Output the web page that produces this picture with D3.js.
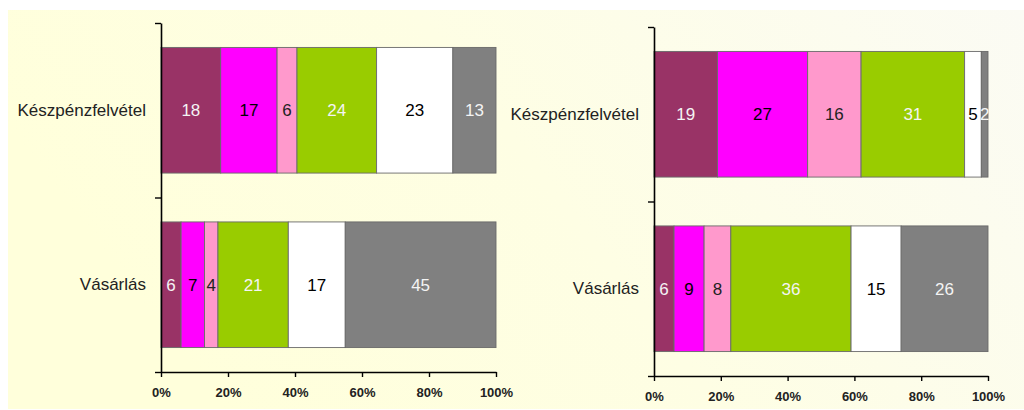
<!DOCTYPE html>
<html>
<head>
<meta charset="utf-8">
<script src="https://cdn.jsdelivr.net/npm/d3@7"></script>
<style>
  html, body { margin: 0; padding: 0; background: #ffffff; }
  svg { display: block; }
</style>
</head>
<body>
<svg id="chart" width="1024" height="410"></svg>
<script>
// ---- data ----
const categories = ["Készpénzfelvétel", "Vásárlás"];
const seriesKeys = ["s1", "s2", "s3", "s4", "s5", "s6"];
const leftCash = [18, 17, 6, 24, 23, 13];
const leftPurchase = [6, 7, 4, 21, 17, 45];
const rightCash = [19, 27, 16, 31, 5, 2];
const rightPurchase = [6, 9, 8, 36, 15, 26];
const tickValues = [0, 0.2, 0.4, 0.6, 0.8, 1];
const tickLabels = ["0%", "20%", "40%", "60%", "80%", "100%"];
const seriesColors = ["#993366", "#FF00FF", "#FF99CC", "#99CC00", "#FFFFFF", "#808080"];
const labelColors = ["#f4f4f4", "#000000", "#222222", "#f4f4f4", "#000000", "#f4f4f4"];

const svg = d3.select("#chart");
const defs = svg.append("defs");
const grad = defs.append("linearGradient")
  .attr("id", "bg").attr("x1", "0").attr("y1", "0.3").attr("x2", "1").attr("y2", "0");
grad.append("stop").attr("offset", "0").attr("stop-color", "#FFFFDB");
grad.append("stop").attr("offset", "0.45").attr("stop-color", "#FEFEE4");
grad.append("stop").attr("offset", "1").attr("stop-color", "#FBFBF4");

svg.append("rect").attr("x", 8).attr("y", 10).attr("width", 1016).attr("height", 399)
  .attr("fill", "url(#bg)");

function toRows(cash, purchase) {
  return [cash, purchase].map((vals, i) => {
    const row = { cat: categories[i] };
    seriesKeys.forEach((k, j) => row[k] = vals[j]);
    return row;
  });
}

function drawPanel(cfg) {
  const rows = toRows(cfg.cash, cfg.purchase);
  const stack = d3.stack().keys(seriesKeys).offset(d3.stackOffsetExpand);
  const layers = stack(rows);

  const x = d3.scaleLinear().domain([0, 1]).range([cfg.x0, cfg.x1]);
  const y = d3.scaleBand().domain(categories).range([cfg.y0, cfg.y1])
    .paddingInner(0.28).paddingOuter(0.14);
  const yLin = d3.scaleLinear().domain([0, categories.length]).range([cfg.y0, cfg.y1]);

  const g = svg.append("g");

  const layerG = g.selectAll("g.layer").data(layers).join("g")
    .attr("class", "layer")
    .attr("fill", (d, i) => seriesColors[i]);

  layerG.selectAll("rect").data(d => d).join("rect")
    .attr("x", d => x(d[0]))
    .attr("y", d => y(d.data.cat))
    .attr("width", d => x(d[1]) - x(d[0]))
    .attr("height", y.bandwidth())
    .attr("stroke", "#6a6a6a")
    .attr("stroke-width", 0.9);

  // data labels
  layers.forEach((layer, i) => {
    g.selectAll(null).data(layer).join("text")
      .attr("x", d => (x(d[0]) + x(d[1])) / 2)
      .attr("y", d => y(d.data.cat) + y.bandwidth() / 2)
      .attr("dy", "0.36em")
      .attr("text-anchor", "middle")
      .attr("font-family", "'Liberation Sans', Arial, sans-serif")
      .attr("font-size", 17)
      .attr("fill", labelColors[i])
      .text(d => d.data[layer.key]);
  });

  // x axis
  const xAxis = d3.axisBottom(x)
    .tickValues(tickValues)
    .tickFormat((d, i) => tickLabels[i])
    .tickSize(5).tickSizeOuter(0).tickPadding(11);
  const xg = g.append("g").attr("transform", `translate(0,${cfg.y1})`).call(xAxis);
  xg.select(".domain").attr("stroke", "#000").attr("stroke-width", 1.6);
  xg.selectAll(".tick line").attr("stroke", "#000").attr("stroke-width", 1.4);
  xg.selectAll(".tick text")
    .attr("font-family", "'Liberation Sans', Arial, sans-serif")
    .attr("font-weight", "bold").attr("font-size", 13)
    .attr("fill", "#222");

  // y axis boundary ticks
  const yAxis = d3.axisLeft(yLin).tickValues([0, 1, 2]).tickFormat("")
    .tickSize(6).tickSizeOuter(0);
  const yg = g.append("g").attr("transform", `translate(${cfg.x0},0)`).call(yAxis);
  yg.select(".domain").attr("stroke", "#000").attr("stroke-width", 1.6);
  yg.selectAll(".tick line").attr("stroke", "#000").attr("stroke-width", 1.4);

  // category labels
  const cg = g.append("g").attr("transform", `translate(${cfg.x0},0)`)
    .call(d3.axisLeft(y).tickSize(0).tickPadding(15));
  cg.select(".domain").remove();
  cg.selectAll(".tick text")
    .attr("font-family", "'Liberation Sans', Arial, sans-serif")
    .attr("font-size", 17).attr("fill", "#222");
}

drawPanel({ cash: leftCash, purchase: leftPurchase, x0: 161, x1: 496, y0: 23, y1: 372 });
drawPanel({ cash: rightCash, purchase: rightPurchase, x0: 654, x1: 988, y0: 27, y1: 376 });
</script>
</body>
</html>
